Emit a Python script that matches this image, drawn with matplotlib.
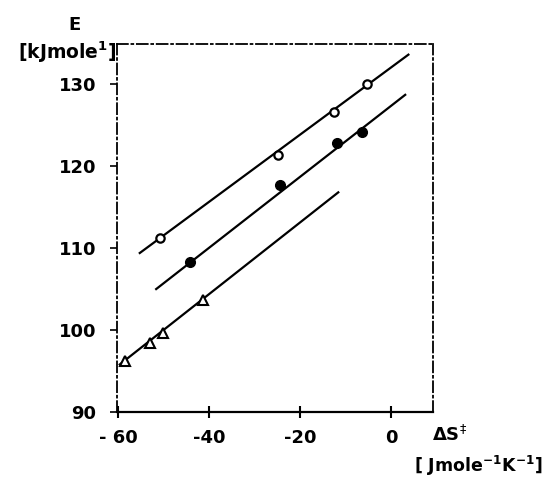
import matplotlib
matplotlib.use("Agg")
import matplotlib.pyplot as plt

# data: entropy of activation (x) vs activation energy E (y)
open_x = [-50.8, -24.9, -12.5, -5.4]
open_y = [111.2, 121.3, 126.6, 130.0]
open_line_x = [-55.2, 3.8]
open_line_y = [109.4, 133.6]

filled_x = [-44.2, -24.4, -11.8, -6.3]
filled_y = [108.3, 117.7, 122.8, 124.2]
filled_line_x = [-51.6, 3.1]
filled_line_y = [105.0, 128.7]

tri_x = [-58.5, -53.0, -50.2, -41.4]
tri_y = [96.2, 98.4, 99.7, 103.7]
tri_line_x = [-59.6, -11.6]
tri_line_y = [95.8, 116.8]

x_ticks = [-60, -40, -20, 0]
x_ticklabels = ["- 60", "-40", "-20", "0"]
y_ticks = [90, 100, 110, 120, 130]

plt.rcParams['font.family'] = ['DejaVu Sans']

fig = plt.figure(figsize=(5.46, 4.82), dpi=100)
ax = fig.add_axes([0.2143, 0.1452, 0.7930 - 0.2143, 0.9087 - 0.1452])

lw = 1.6
ax.plot(open_line_x, open_line_y, color='black', lw=lw, zorder=2)
ax.plot(filled_line_x, filled_line_y, color='black', lw=lw, zorder=2)
ax.plot(tri_line_x, tri_line_y, color='black', lw=lw, zorder=2)

ax.plot(open_x, open_y, 'o', ms=6, mfc='white', mec='black', mew=1.6, zorder=3)
ax.plot(filled_x, filled_y, 'o', ms=7, mfc='black', mec='black', zorder=3)
ax.plot(tri_x, tri_y, '^', ms=7, mfc='white', mec='black', mew=1.5, zorder=3)

ax.set_xlim(-60.2, 9.2)
ax.set_ylim(90, 134.9)

ax.set_xticks(x_ticks)
ax.set_xticklabels(x_ticklabels)
ax.set_yticks(y_ticks)

ax.tick_params(axis='x', direction='inout', length=8, width=1.5, pad=8,
               labelsize=13)
ax.tick_params(axis='y', direction='out', length=5, width=1.2, pad=10,
               labelsize=13)
for lab in ax.get_xticklabels() + ax.get_yticklabels():
    lab.set_fontweight('bold')

ax.spines['bottom'].set_linewidth(1.6)
for side in ['left', 'top', 'right']:
    ax.spines[side].set_linewidth(1.3)
    ax.spines[side].set_linestyle((0, (6, 2, 1, 2)))

# axis titles placed as in the original figure
fig.text(75 / 546, 1 - 25 / 482, "E", ha='center', va='center',
         fontsize=13, fontweight='bold')
fig.text(116 / 546, 1 - 52 / 482, "[kJmole$^{\\mathbf{1}}$]", ha='right', va='center',
         fontsize=13.5, fontweight='bold')
fig.text(432 / 546, 1 - 435 / 482, "ΔS$^{\\ddagger}$", ha='left', va='center',
         fontsize=13, fontweight='bold')
fig.text(543 / 546, 1 - 466 / 482, "[ Jmole$^{\\mathbf{-1}}$K$^{\\mathbf{-1}}$]",
         ha='right', va='center', fontsize=12.5, fontweight='bold')

fig.savefig("out.png", dpi=100)
